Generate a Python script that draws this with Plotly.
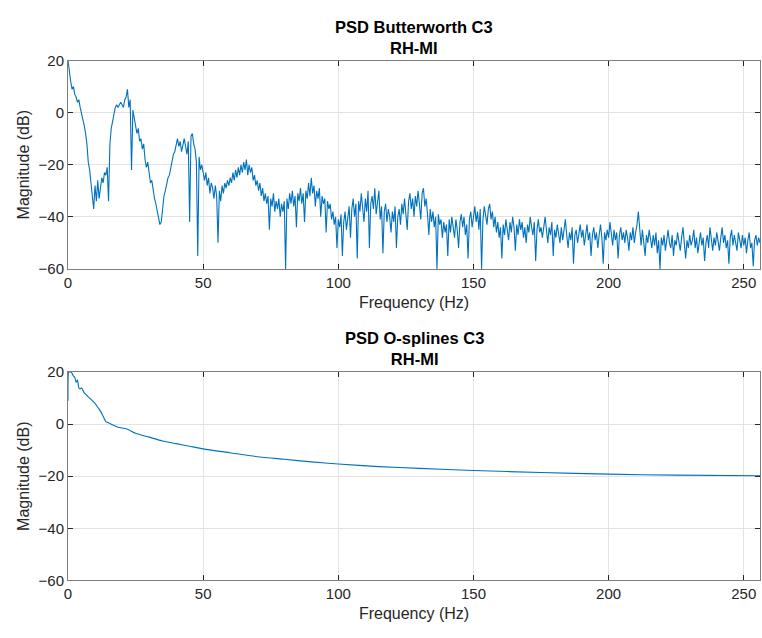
import plotly.graph_objects as go

# ---------------- data ----------------
# Top panel: Butterworth PSD, 0.5 Hz steps from 0 to 256 Hz (values in dB)
butter_step_hz = 0.5
butter_db = [
    20, 15, 12, 9, 10, 7, 6, 4, 5, 2, 0, -2, -5, -8, -12, -19, -22, -27, -31, -37,
    -28, -34, -26, -33, -29, -25, -27, -23, -24, -21, -34, -12, -6, -3, 0, 2, 3, 2, 3, 4,
    3, 2, 5, 6, 9, 2, 5, -22, 1, -3, -5, -8, -6, -11, -10, -14, -12, -18, -21, -19,
    -24, -27, -26, -30, -33, -35, -38, -40, -43, -42, -36, -32, -30, -27, -25, -24, -21, -19, -16, -15,
    -12, -10, -13, -11, -15, -12, -10, -13, -16, -11, -42, -9, -8, -12, -14, -19, -55, -17, -22, -20,
    -24, -26, -23, -28, -25, -31, -27, -29, -33, -28, -32, -50, -30, -34, -28, -31, -27, -29, -26, -28,
    -25, -27, -23, -26, -22, -25, -21, -24, -20, -23, -19, -22, -18, -24, -20, -23, -21, -26, -24, -28,
    -26, -30, -27, -32, -29, -34, -31, -35, -32, -45, -33, -36, -31, -38, -34, -37, -33, -40, -35, -38,
    -34, -60, -33, -37, -31, -35, -30, -36, -32, -44, -31, -34, -29, -35, -31, -42, -30, -33, -27, -32,
    -25, -31, -28, -36, -30, -33, -29, -40, -32, -35, -33, -46, -34, -37, -35, -41, -38, -43, -40, -52,
    -41, -44, -39, -55, -42, -38, -45, -40, -36, -48, -37, -33, -40, -35, -56, -34, -38, -31, -36, -42,
    -33, -38, -30, -52, -35, -32, -37, -29, -39, -34, -30, -41, -36, -54, -38, -35, -42, -37, -40, -46,
    -38, -42, -36, -52, -40, -37, -43, -35, -39, -33, -38, -45, -34, -31, -37, -33, -40, -32, -36, -30,
    -35, -41, -31, -29, -36, -33, -39, -47, -37, -42, -38, -44, -40, -60, -39, -43, -41, -48, -42, -46,
    -43, -55, -41, -46, -40, -44, -48, -41, -45, -52, -42, -39, -44, -40, -47, -43, -56, -41, -38, -44,
    -40, -36, -42, -38, -45, -37, -60, -41, -36, -39, -43, -37, -35, -41, -38, -44, -40, -46, -42, -48,
    -44, -56, -43, -47, -41, -45, -49, -42, -46, -40, -44, -53, -43, -47, -41, -45, -42, -48, -44, -50,
    -43, -46, -40, -44, -47, -42, -57, -45, -41, -46, -44, -48, -43, -40, -45, -50, -44, -47, -42, -55,
    -45, -48, -43, -47, -50, -44, -49, -45, -41, -47, -52, -46, -49, -44, -58, -47, -45, -50, -46, -43,
    -48, -45, -51, -47, -43, -49, -46, -55, -47, -44, -49, -46, -52, -47, -43, -48, -58, -46, -49, -45,
    -48, -42, -47, -51, -45, -49, -46, -56, -47, -44, -49, -46, -50, -45, -48, -53, -46, -49, -44, -50,
    -46, -43, -38, -47, -51, -45, -49, -55, -47, -50, -45, -49, -52, -47, -51, -46, -54, -49, -60, -48,
    -51, -47, -53, -49, -45, -50, -52, -47, -55, -49, -51, -46, -50, -53, -48, -44, -50, -56, -49, -52,
    -47, -51, -49, -45, -52, -48, -54, -50, -46, -51, -48, -57, -50, -47, -52, -44, -49, -53, -48, -51,
    -46, -50, -53, -48, -44, -50, -47, -52, -49, -58, -48, -45, -51, -47, -50, -53, -46, -49, -52, -47,
    -51, -48, -54, -49, -46, -52, -50, -59, -49, -47, -51, -48, -50,
]
butter_freq = [i * butter_step_hz for i in range(len(butter_db))]

# Bottom panel: O-splines PSD (smooth curve)
spline_freq = [0, 0.25, 0.5, 1, 1.5, 2, 2.5, 3, 3.5, 4, 4.5, 5, 6, 7, 8, 9, 10, 11, 12, 13,
               14, 15, 16, 18, 20, 22, 25, 30, 35, 40, 45, 50, 60, 70, 80, 90, 100, 115,
               130, 150, 175, 200, 225, 256]
spline_db = [9, 20, 20, 20, 19.5, 18.5, 18, 16, 17, 14, 13.5, 14, 12, 11, 10, 9, 8, 6.5, 5, 3,
             1, 0.5, 0, -1, -1.5, -2, -3.5, -5, -6.5, -7.5, -8.5, -9.5, -11, -12.5, -13.5,
             -14.5, -15.3, -16.3, -17, -17.8, -18.6, -19.2, -19.6, -19.8]

titles = [["PSD Butterworth C3", "RH-MI"], ["PSD O-splines C3", "RH-MI"]]
x_label = "Frequency (Hz)"
y_label = "Magnitude (dB)"
x_ticks = [0, 50, 100, 150, 200, 250]
y_ticks = [-60, -40, -20, 0, 20]

# ---------------- figure ----------------
W, H = 762, 638
line_color = "#0072BD"
font_family = "Liberation Sans, Arial, Helvetica, sans-serif"
text_color = "#262626"

fig = go.Figure()
fig.add_trace(go.Scatter(x=butter_freq, y=butter_db, mode="lines",
                         line=dict(color=line_color, width=1.1),
                         xaxis="x", yaxis="y", showlegend=False))
fig.add_trace(go.Scatter(x=spline_freq, y=spline_db, mode="lines",
                         line=dict(color=line_color, width=1.1, shape="spline", smoothing=0.6),
                         xaxis="x2", yaxis="y2", showlegend=False))

# pixel geometry of the two axes boxes
top_px = (53, 267)
bot_px = (373, 587)
def ydom(p):
    return [1 - p[1] / H, 1 - p[0] / H]

axis_common = dict(showline=True, linecolor="#7f7f7f", linewidth=1, mirror="ticks",
                   ticks="inside", ticklen=5, tickcolor="#262626", tickwidth=1,
                   showgrid=True, gridcolor="#e3e3e3", gridwidth=1, zeroline=False,
                   tickfont=dict(family=font_family, size=15, color=text_color))

xaxis_common = dict(axis_common, range=[0, 256], tickvals=x_ticks,
                    title=dict(text=x_label, font=dict(family=font_family, size=16, color=text_color),
                               standoff=6))
yaxis_common = dict(axis_common, range=[-60, 20], tickvals=y_ticks,
                    title=dict(text=y_label, font=dict(family=font_family, size=16, color=text_color),
                               standoff=4))

fig.update_layout(
    width=W, height=H,
    margin=dict(l=68, r=2, t=0, b=0),
    paper_bgcolor="white", plot_bgcolor="white",
    xaxis=dict(xaxis_common, domain=[0, 1], anchor="y"),
    yaxis=dict(yaxis_common, domain=ydom(top_px), anchor="x"),
    xaxis2=dict(xaxis_common, domain=[0, 1], anchor="y2"),
    yaxis2=dict(yaxis_common, domain=ydom(bot_px), anchor="x2"),
)

for (t1, t2), p in zip(titles, [top_px, bot_px]):
    ytop = 1 - p[0] / H
    fig.add_annotation(text="<b>%s</b><br><b>%s</b>" % (t1, t2), xref="paper", yref="paper",
                       x=0.5, y=ytop, yshift=2, xanchor="center", yanchor="bottom",
                       showarrow=False,
                       font=dict(family=font_family, size=16.5, color="black"))

fig.write_html("out.html")
